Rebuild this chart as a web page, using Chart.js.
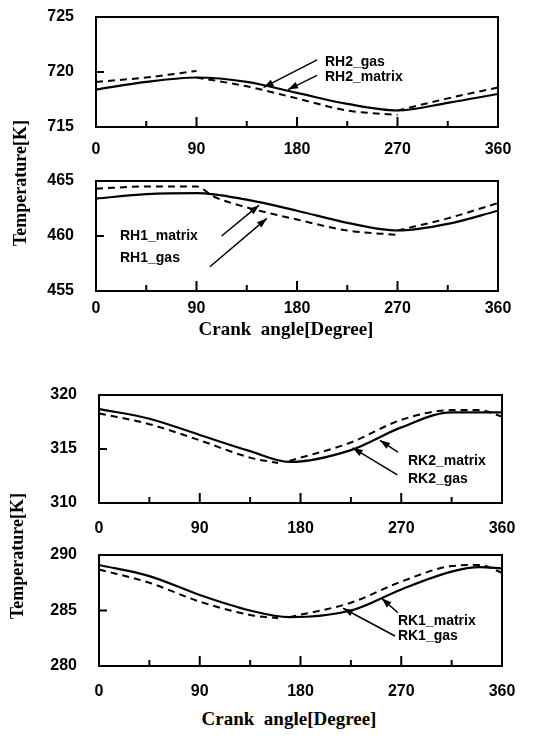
<!DOCTYPE html>
<html>
<head>
<meta charset="utf-8">
<script src="https://cdn.jsdelivr.net/npm/chart.js@4.4.0/dist/chart.umd.min.js"></script>
<style>
  body { margin: 0; background: #fff; width: 539px; height: 737px; position: relative; overflow: hidden; }
  canvas { position: absolute; left: 0; }
  .title { position: absolute; font-family: "Liberation Serif", "DejaVu Serif", serif; font-weight: bold; color: #000; white-space: pre; }
  .ytitle { font-size: 18px; transform: translate(-50%, -50%) rotate(-90deg); }
  .xtitle { font-size: 19px; transform: translate(-50%, -50%); }
</style>
</head>
<body>
<canvas id="p1"></canvas>
<canvas id="p2"></canvas>
<canvas id="p3"></canvas>
<canvas id="p4"></canvas>
<div class="title ytitle" style="left:20px;top:183px">Temperature[K]</div>
<div class="title ytitle" style="left:17px;top:556px">Temperature[K]</div>
<div class="title xtitle" style="left:286px;top:329px">Crank  angle[Degree]</div>
<div class="title xtitle" style="left:289px;top:719px">Crank  angle[Degree]</div>
<script>
// crank angles (degree) and temperatures (K); null = break in the dashed curve
const angles = [0, 45, 90, 135, 180, 225, 270, 315, 360];

const rh2Matrix = [718.4, 719.1, 719.5, 719.1, 718.1, 717.1, 716.5, 717.2, 718.0];
const rh2GasAngles = [0, 45, 90, null, 90, 135, 180, 225, 270, null, 270, 315, 360];
const rh2Gas = [719.1, 719.5, 720.1, null, 719.5, 718.7, 717.6, 716.5, 716.1, null, 716.5, 717.6, 718.6];

const rh1Matrix = [463.4, 463.8, 463.9, 463.3, 462.3, 461.2, 460.5, 461.1, 462.3];
const rh1GasAngles = [0, 45, 90, 105, 135, 180, 225, 270, null, 270, 315, 360];
const rh1Gas = [464.3, 464.5, 464.5, 463.6, 462.6, 461.5, 460.5, 460.1, null, 460.5, 461.6, 463.0];

const rk2MatrixAngles = [0, 45, 90, 135, 170, 225, 270, 315, 360];
const rk2Matrix = [318.7, 317.8, 316.3, 314.8, 313.8, 314.9, 317.0, 318.4, 318.4];
const rk2GasAngles = [0, 45, 90, 135, 160, null, 170, 225, 270, 315, 340, 360];
const rk2Gas = [318.3, 317.3, 315.8, 314.2, 313.7, null, 313.9, 315.6, 317.7, 318.6, 318.6, 318.0];

const rk1MatrixAngles = [0, 45, 90, 135, 170, 225, 270, 315, 340, 360];
const rk1Matrix = [289.1, 288.1, 286.4, 285.0, 284.4, 285.0, 286.9, 288.5, 288.9, 288.8];
const rk1GasAngles = [0, 45, 90, 135, 160, null, 170, 225, 270, 315, 340, 360];
const rk1Gas = [288.7, 287.5, 285.8, 284.6, 284.3, null, 284.4, 285.7, 287.6, 289.0, 289.1, 288.4];

const xTicks = [0, 90, 180, 270, 360];

// split a series with null breaks into separate line pieces
const pieces = (xs, ys) => {
    const out = [];
    let cur = [];
    xs.forEach((x, i) => {
        if (x === null || ys[i] === null) {
            if (cur.length) out.push(cur);
            cur = [];
        } else {
            cur.push({ x: x, y: ys[i] });
        }
    });
    if (cur.length) out.push(cur);
    return out;
};

const boxPlugin = {
    id: 'box',
    afterDatasetsDraw(chart) {
        const { ctx, chartArea: a, scales } = chart;
        const opts = chart.options.plugins.box;
        ctx.save();
        ctx.strokeStyle = '#000';
        ctx.lineWidth = 2;
        ctx.strokeRect(a.left, a.top, a.right - a.left, a.bottom - a.top);
        // inner ticks on bottom edge
        [45, 90, 135, 180, 225, 270, 315].forEach(v => {
            const px = scales.x.getPixelForValue(v);
            const len = v % 90 === 0 ? 10 : 6;
            ctx.beginPath();
            ctx.moveTo(px, a.bottom);
            ctx.lineTo(px, a.bottom - len);
            ctx.stroke();
        });
        // inner tick on left edge
        const py = scales.y.getPixelForValue(opts.mid);
        ctx.beginPath();
        ctx.moveTo(a.left, py);
        ctx.lineTo(a.left + 8, py);
        ctx.stroke();

        // labels and arrows
        ctx.fillStyle = '#000';
        ctx.font = 'bold 14px "Liberation Sans", Arial, sans-serif';
        ctx.textBaseline = 'middle';
        ctx.textAlign = 'left';
        opts.labels.forEach(l => {
            ctx.fillText(l.text, scales.x.getPixelForValue(l.x), scales.y.getPixelForValue(l.y));
        });
        ctx.lineWidth = 1.5;
        opts.arrows.forEach(ar => {
            const x1 = scales.x.getPixelForValue(ar.from[0]);
            const y1 = scales.y.getPixelForValue(ar.from[1]);
            const x2 = scales.x.getPixelForValue(ar.to[0]);
            const y2 = scales.y.getPixelForValue(ar.to[1]);
            const ang = Math.atan2(y2 - y1, x2 - x1);
            ctx.beginPath();
            ctx.moveTo(x1, y1);
            ctx.lineTo(x2, y2);
            ctx.stroke();
            ctx.beginPath();
            ctx.moveTo(x2, y2);
            ctx.lineTo(x2 - 10 * Math.cos(ang) + 3.5 * Math.sin(ang), y2 - 10 * Math.sin(ang) - 3.5 * Math.cos(ang));
            ctx.lineTo(x2 - 10 * Math.cos(ang) - 3.5 * Math.sin(ang), y2 - 10 * Math.sin(ang) + 3.5 * Math.cos(ang));
            ctx.closePath();
            ctx.fill();
        });
        ctx.restore();
    }
};

const makePanel = (id, p) => {
    const canvas = document.getElementById(id);
    const h = p.bottom - p.top + 16 + 36;
    canvas.width = 539;
    canvas.height = h;
    canvas.style.width = '539px';
    canvas.style.height = h + 'px';
    canvas.style.top = (p.top - 16) + 'px';

    const datasets = [{
        data: p.matrixAngles.map((x, i) => ({ x: x, y: p.matrix[i] })),
        borderColor: '#000',
        borderWidth: 2.2,
        pointRadius: 0,
        cubicInterpolationMode: 'monotone',
        fill: false
    }];
    pieces(p.gasAngles, p.gas).forEach(seg => {
        datasets.push({
            data: seg,
            borderColor: '#000',
            borderWidth: 2,
            borderDash: [7, 5],
            pointRadius: 0,
            cubicInterpolationMode: 'monotone',
            fill: false
        });
    });

    const tickFont = { family: '"Liberation Sans", Arial, sans-serif', size: 16, weight: 'bold' };

    new Chart(canvas.getContext('2d'), {
        type: 'line',
        data: { datasets: datasets },
        plugins: [boxPlugin],
        options: {
            responsive: false,
            animation: false,
            events: [],
            layout: { padding: { top: 16, left: 0, right: 539 - p.right, bottom: 0 } },
            plugins: {
                legend: { display: false },
                tooltip: { enabled: false },
                box: { mid: p.min + 5, labels: p.labels, arrows: p.arrows }
            },
            scales: {
                x: {
                    type: 'linear',
                    min: 0,
                    max: 360,
                    afterBuildTicks: s => { s.ticks = xTicks.map(v => ({ value: v })); },
                    grid: { display: false },
                    border: { display: false },
                    ticks: { color: '#000', font: tickFont, padding: p.xPad, maxRotation: 0 },
                    afterFit: s => { s.height = 36; s.paddingLeft = 0; s.paddingRight = 0; }
                },
                y: {
                    min: p.min,
                    max: p.min + 10,
                    grid: { display: false },
                    border: { display: false },
                    ticks: { color: '#000', font: tickFont, padding: 14, stepSize: 5 },
                    afterFit: s => { s.width = p.left; s.paddingTop = 0; s.paddingBottom = 0; }
                }
            }
        }
    });
};

makePanel('p1', {
    top: 17, bottom: 127, left: 96, right: 498, xPad: 5, min: 715,
    matrixAngles: angles, matrix: rh2Matrix, gasAngles: rh2GasAngles, gas: rh2Gas,
    labels: [{ text: 'RH2_gas', x: 205, y: 720.9 }, { text: 'RH2_matrix', x: 205, y: 719.5 }],
    arrows: [{ from: [198, 721.1], to: [150, 718.6] }, { from: [198, 719.7], to: [172, 718.4] }]
});
makePanel('p2', {
    top: 181, bottom: 291, left: 96, right: 498, xPad: 0, min: 455,
    matrixAngles: angles, matrix: rh1Matrix, gasAngles: rh1GasAngles, gas: rh1Gas,
    labels: [{ text: 'RH1_matrix', x: 21.5, y: 460.0 }, { text: 'RH1_gas', x: 21.5, y: 458.0 }],
    arrows: [{ from: [112.5, 460.0], to: [146, 462.8] }, { from: [102, 457.2], to: [153, 461.6] }]
});
makePanel('p3', {
    top: 395, bottom: 503, left: 99, right: 502, xPad: 8, min: 310,
    matrixAngles: rk2MatrixAngles, matrix: rk2Matrix, gasAngles: rk2GasAngles, gas: rk2Gas,
    labels: [{ text: 'RK2_matrix', x: 276, y: 313.9 }, { text: 'RK2_gas', x: 276, y: 312.2 }],
    arrows: [{ from: [267, 314.7], to: [251, 315.8] }, { from: [266.5, 312.6], to: [226.6, 315.1] }]
});
makePanel('p4', {
    top: 555, bottom: 666, left: 99, right: 502, xPad: 8, min: 280,
    matrixAngles: rk1MatrixAngles, matrix: rk1Matrix, gasAngles: rk1GasAngles, gas: rk1Gas,
    labels: [{ text: 'RK1_matrix', x: 267, y: 284.0 }, { text: 'RK1_gas', x: 267, y: 282.7 }],
    arrows: [{ from: [267, 284.8], to: [252.5, 286.1] }, { from: [264.4, 282.7], to: [218, 285.2] }]
});
</script>
</body>
</html>
